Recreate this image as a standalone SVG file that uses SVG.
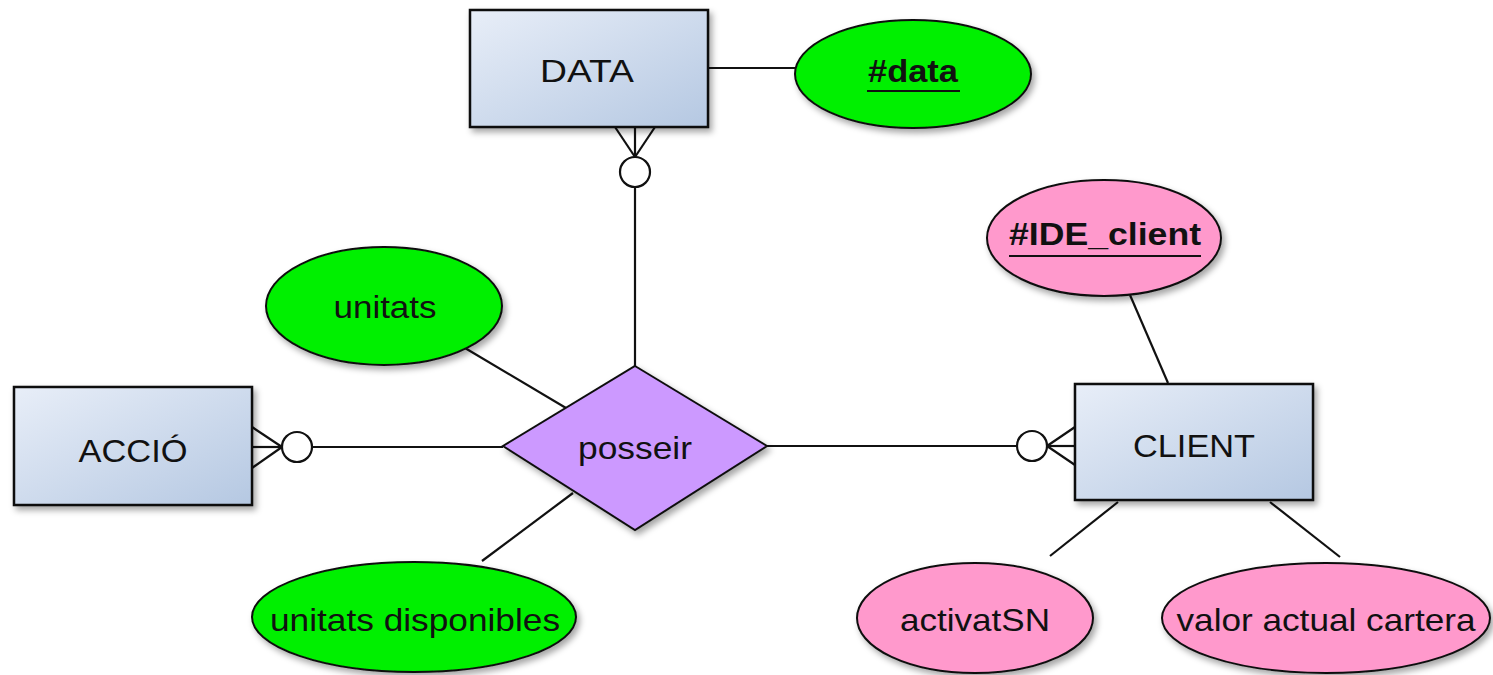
<svg xmlns="http://www.w3.org/2000/svg" width="1493" height="675" viewBox="0 0 1493 675">
<defs>
<linearGradient id="ent" x1="0" y1="0" x2="1" y2="1">
<stop offset="0" stop-color="#e8eef8"/>
<stop offset="1" stop-color="#b5c8e2"/>
</linearGradient>
<filter id="sh" x="-10%" y="-10%" width="125%" height="130%">
<feDropShadow dx="3" dy="4" stdDeviation="3" flood-color="#000" flood-opacity="0.35"/>
</filter>
</defs>
<style>
.ent{fill:url(#ent);stroke:#111;stroke-width:2.5;filter:url(#sh)}
.attg{fill:#00f000;stroke:#111;stroke-width:2;filter:url(#sh)}
.attp{fill:#ff99cc;stroke:#111;stroke-width:2;filter:url(#sh)}
.rel{fill:#cc99ff;stroke:#111;stroke-width:2;filter:url(#sh)}
.t{font-family:"Liberation Sans",Arial,sans-serif;font-size:32px;fill:#111;text-anchor:middle}
.b{font-weight:bold}
.ln{stroke:#111;stroke-width:2.2;fill:none}
.ci{stroke:#111;stroke-width:2.2;fill:#fff}
.ul{stroke:#111;stroke-width:2}
</style>
<g id="connectors">
<line class="ln" x1="708" y1="68" x2="796" y2="68"/>
<line class="ln" x1="615" y1="127" x2="635" y2="157"/>
<line class="ln" x1="635" y1="127" x2="635" y2="157"/>
<line class="ln" x1="655" y1="127" x2="635" y2="157"/>
<line class="ln" x1="635" y1="187" x2="635" y2="366"/>
<circle class="ci" cx="635" cy="172" r="15"/>
<line class="ln" x1="252" y1="427" x2="282" y2="447"/>
<line class="ln" x1="252" y1="447" x2="282" y2="447"/>
<line class="ln" x1="252" y1="468" x2="282" y2="447"/>
<line class="ln" x1="312" y1="447" x2="503" y2="447"/>
<circle class="ci" cx="297" cy="447" r="15"/>
<line class="ln" x1="1075" y1="427" x2="1047" y2="446"/>
<line class="ln" x1="1075" y1="446" x2="1047" y2="446"/>
<line class="ln" x1="1075" y1="465" x2="1047" y2="446"/>
<line class="ln" x1="767" y1="446" x2="1017" y2="446"/>
<circle class="ci" cx="1032" cy="446" r="15"/>
<line class="ln" x1="465" y1="348" x2="566" y2="408"/>
<line class="ln" x1="482" y1="561" x2="573" y2="493"/>
<line class="ln" x1="1130" y1="295" x2="1168" y2="383"/>
<line class="ln" x1="1118" y1="502" x2="1050" y2="556"/>
<line class="ln" x1="1270" y1="502" x2="1340" y2="557"/>
</g>
<g id="data">
<rect class="ent" x="470" y="10" width="238" height="117"/>
<text class="t" x="587" y="82" textLength="94" lengthAdjust="spacingAndGlyphs">DATA</text>
</g>
<g id="data_key">
<ellipse class="attg" cx="913" cy="74" rx="118" ry="54"/>
<text class="t b" x="913" y="82" textLength="90" lengthAdjust="spacingAndGlyphs">#data</text>
<line class="ul" x1="867" y1="91" x2="960" y2="91"/>
</g>
<g id="accio">
<rect class="ent" x="14" y="387" width="238" height="118"/>
<text class="t" x="133" y="462" textLength="109" lengthAdjust="spacingAndGlyphs">ACCIÓ</text>
</g>
<g id="client">
<rect class="ent" x="1075" y="384" width="238" height="116"/>
<text class="t" x="1194" y="457" textLength="122" lengthAdjust="spacingAndGlyphs">CLIENT</text>
</g>
<g id="posseir">
<polygon class="rel" points="635,366 767,446 635,530 503,446"/>
<text class="t" x="635" y="459" textLength="114" lengthAdjust="spacingAndGlyphs">posseir</text>
</g>
<g id="ide_client">
<ellipse class="attp" cx="1104" cy="238" rx="117" ry="58"/>
<text class="t b" x="1105" y="245" textLength="192" lengthAdjust="spacingAndGlyphs">#IDE_client</text>
<line class="ul" x1="1009" y1="256" x2="1201" y2="256"/>
</g>
<g id="unitats">
<ellipse class="attg" cx="384" cy="306" rx="118" ry="59"/>
<text class="t" x="385" y="318" textLength="103" lengthAdjust="spacingAndGlyphs">unitats</text>
</g>
<g id="unitats_disponibles">
<ellipse class="attg" cx="414" cy="617" rx="162" ry="55"/>
<text class="t" x="415" y="631" textLength="290" lengthAdjust="spacingAndGlyphs">unitats disponibles</text>
</g>
<g id="activatSN">
<ellipse class="attp" cx="975" cy="618" rx="118" ry="55"/>
<text class="t" x="975" y="631" textLength="150" lengthAdjust="spacingAndGlyphs">activatSN</text>
</g>
<g id="valor_actual_cartera">
<ellipse class="attp" cx="1326" cy="618" rx="164" ry="55"/>
<text class="t" x="1326" y="631" textLength="299" lengthAdjust="spacingAndGlyphs">valor actual cartera</text>
</g>
</svg>
